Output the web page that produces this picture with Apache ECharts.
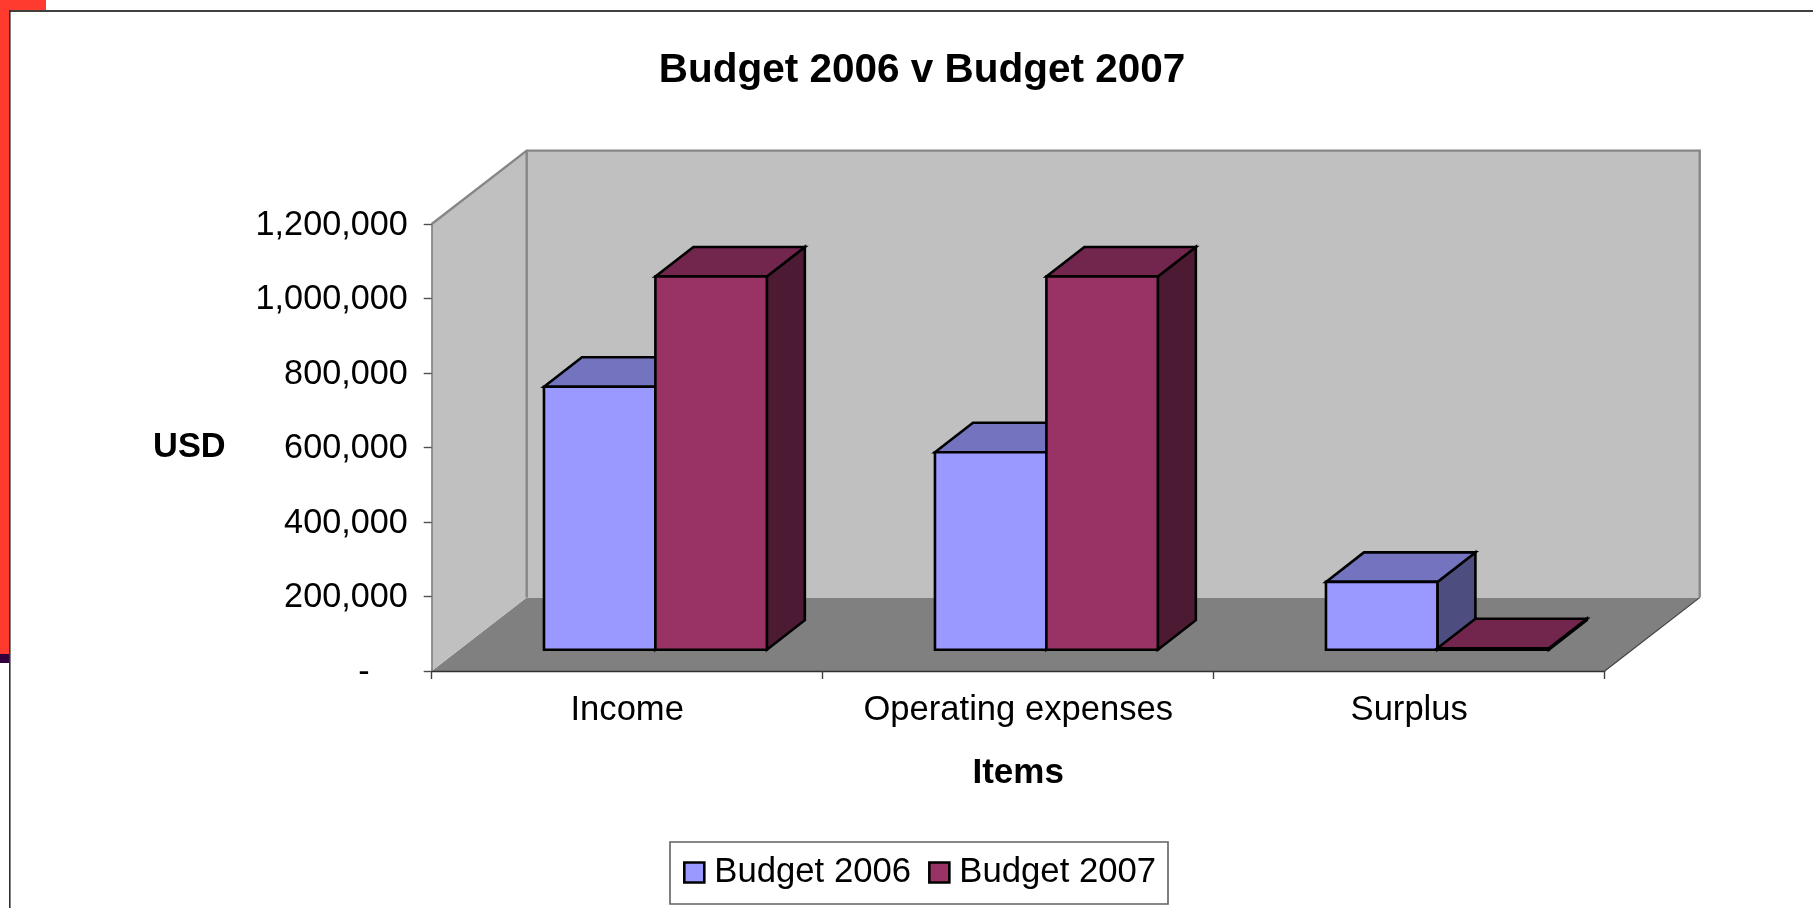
<!DOCTYPE html>
<html>
<head>
<meta charset="utf-8">
<style>html,body{margin:0;padding:0;background:#fff}#c{width:1813px;height:908px}</style>
<script src="https://cdn.jsdelivr.net/npm/echarts@6/dist/echarts.min.js"></script>
</head>
<body>
<div id="c"></div>
<script>
var categories = ['Income', 'Operating expenses', 'Surplus'];
var budget2006 = [706000, 530000, 182000];
var budget2007 = [1002000, 1002000, 4000];
var yTicks = [0, 200000, 400000, 600000, 800000, 1000000, 1200000];

var FONT = '"Liberation Sans", Arial, sans-serif';
var WALL_DX = 95, WALL_DY = 73.4;      // depth of the whole 3D box
var BAR_OFF_X = 28.2, BAR_OFF_Y = 21.3; // bar front plane inside the box
var BAR_DX = 38, BAR_DY = 29.5;         // depth of one bar
var BAR_FRACTION = 0.285;               // bar width as a share of a category band

function poly(points, fill, stroke, lw) {
  return {
    type: 'polygon',
    shape: { points: points },
    style: { fill: fill, stroke: stroke || null, lineWidth: lw || 0, lineJoin: 'miter' }
  };
}

function wallsRender(params) {
  var r = params.coordSys;
  var x0 = r.x, x1 = r.x + r.width, y0 = r.y, y1 = r.y + r.height;
  var dx = WALL_DX, dy = WALL_DY;
  return {
    type: 'group',
    children: [
      poly([[x0 + dx, y1 - dy], [x1 + dx, y1 - dy], [x1, y1], [x0, y1]], '#808080'),
      poly([[x0, y0], [x0 + dx, y0 - dy], [x0 + dx, y1 - dy], [x0, y1]], '#C0C0C0'),
      poly([[x0 + dx, y0 - dy], [x1 + dx, y0 - dy], [x1 + dx, y1 - dy], [x0 + dx, y1 - dy]], '#C0C0C0'),
      { type: 'polyline', shape: { points: [[x0, y0], [x0 + dx, y0 - dy], [x1 + dx, y0 - dy], [x1 + dx, y1 - dy]] },
        style: { fill: null, stroke: '#868686', lineWidth: 2.4 } },
      { type: 'line', shape: { x1: x0 + dx, y1: y0 - dy, x2: x0 + dx, y2: y1 - dy },
        style: { stroke: '#868686', lineWidth: 2.4 } },
      { type: 'line', shape: { x1: x1, y1: y1, x2: x1 + dx, y2: y1 - dy },
        style: { stroke: '#404040', lineWidth: 1.2 } }
    ]
  };
}

function barRender(side, front, top, right) {
  return function (params, api) {
    var i = api.value(0), v = api.value(1);
    var base = api.coord([i, 0]);
    var head = api.coord([i, v]);
    var w = api.size([1, 0])[0] * BAR_FRACTION;
    var c = base[0] + BAR_OFF_X;
    var xl = side < 0 ? c - w : c, xr = xl + w;
    var yb = base[1] - BAR_OFF_Y, yt = head[1] - BAR_OFF_Y;
    var dx = BAR_DX, dy = BAR_DY, k = '#000', lw = 2.6;
    return {
      type: 'group',
      children: [
        poly([[xr, yb], [xr + dx, yb - dy], [xr + dx, yt - dy], [xr, yt]], right, k, lw),
        poly([[xl, yt], [xl + dx, yt - dy], [xr + dx, yt - dy], [xr, yt]], top, k, lw),
        poly([[xl, yt], [xr, yt], [xr, yb], [xl, yb]], front, k, lw)
      ]
    };
  };
}

function pairs(values) {
  return values.map(function (v, i) { return [i, v]; });
}

var chart = echarts.init(document.getElementById('c'), null, { renderer: 'canvas' });
chart.setOption({
  animation: false,
  backgroundColor: '#fff',
  title: {
    text: 'Budget 2006 v Budget 2007',
    left: 917, top: 45, textAlign: 'center',
    textStyle: { fontFamily: FONT, fontSize: 40.5, fontWeight: 'bold', color: '#000' }
  },
  legend: {
    left: 683, top: 855, z: 10,
    padding: 0,
    orient: 'horizontal',
    data: ['Budget 2006', 'Budget 2007'],
    selectedMode: false,
    icon: 'rect',
    itemWidth: 20, itemHeight: 20, itemGap: 17,
    itemStyle: { borderColor: '#000', borderWidth: 2.6 },
    textStyle: { fontFamily: FONT, fontSize: 34.7, color: '#000', padding: [0, 0, 0, 5] }
  },
  grid: { left: 431.7, right: 208.3, top: 224, bottom: 237, containLabel: false },
  xAxis: {
    type: 'category', data: categories, z: 5,
    name: 'Items', nameLocation: 'middle', nameGap: 85,
    nameTextStyle: { fontFamily: FONT, fontSize: 35, fontWeight: 'bold', color: '#000' },
    axisLine: { show: true, lineStyle: { color: '#303030', width: 1.4 } },
    axisTick: { show: true, interval: 0, length: 8, lineStyle: { color: '#404040', width: 1.4 } },
    axisLabel: { interval: 0, hideOverlap: false, fontFamily: FONT, fontSize: 34.6, color: '#000', margin: 22 },
    splitLine: { show: false }
  },
  yAxis: {
    type: 'value', min: 0, max: 1200000, interval: 200000, z: 5,
    name: 'USD', nameLocation: 'middle', nameGap: 206, nameRotate: 0,
    nameTextStyle: { fontFamily: FONT, fontSize: 34.4, fontWeight: 'bold', color: '#000' },
    axisLine: { show: true, lineStyle: { color: '#808080', width: 1.6 } },
    axisTick: { show: true, length: 8, lineStyle: { color: '#505050', width: 1.4 } },
    axisLabel: {
      fontFamily: FONT, fontSize: 34.2, color: '#000', margin: 24, lineHeight: 40,
      formatter: function (v) {
        return '{n|' + (v === 0 ? '-\u00a0\u00a0\u00a0\u00a0' : v.toLocaleString('en-US')) + '}';
      },
      rich: { n: { fontFamily: FONT, fontSize: 34.2, color: '#000', padding: [3, 0, 0, 0] } }
    },
    splitLine: { show: false }
  },
  series: [
    { type: 'custom', name: 'walls', silent: true, clip: false, z: 1,
      data: [[0, 0]], renderItem: wallsRender, tooltip: { show: false } },
    { type: 'custom', name: 'Budget 2006', clip: false, z: 2,
      itemStyle: { color: '#9999FF' },
      data: pairs(budget2006),
      encode: { x: 0, y: 1 },
      renderItem: barRender(-1, '#9999FF', '#7373BF', '#4D4D80') },
    { type: 'custom', name: 'Budget 2007', clip: false, z: 3,
      itemStyle: { color: '#993366' },
      data: pairs(budget2007),
      encode: { x: 0, y: 1 },
      renderItem: barRender(1, '#993366', '#73264D', '#4D1A33') }
  ],
  graphic: [
    { type: 'rect', z: 100, shape: { x: 0, y: 0, width: 46, height: 10 }, style: { fill: '#FF3B30' } },
    { type: 'rect', z: 100, shape: { x: 0, y: 0, width: 9, height: 654 }, style: { fill: '#FF3B30' } },
    { type: 'rect', z: 100, shape: { x: 0, y: 654, width: 9, height: 9 }, style: { fill: '#33003F' } },
    { type: 'rect', z: 101, shape: { x: 9, y: 10, width: 1804, height: 2 }, style: { fill: '#404040' } },
    { type: 'rect', z: 101, shape: { x: 9, y: 10, width: 1.6, height: 898 }, style: { fill: '#303030' } },
    { type: 'rect', z: 0, shape: { x: 670, y: 842, width: 498, height: 62 },
      style: { fill: '#fff', stroke: '#606060', lineWidth: 1.6 } }
  ]
});
</script>
</body>
</html>
